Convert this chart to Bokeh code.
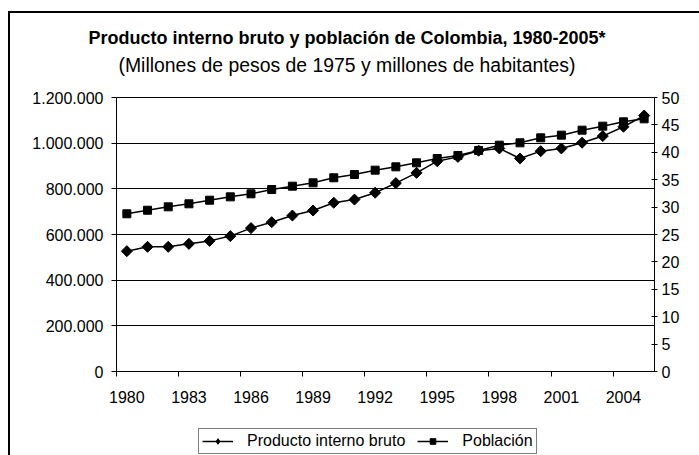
from bokeh.plotting import figure
from bokeh.layouts import column
from bokeh.models import (Range1d, LinearAxis, FixedTicker, Legend, LegendItem,
                          Title, ColumnDataSource)
from bokeh.embed import file_html
from bokeh.resources import INLINE

years = list(range(1980, 2006))
pib = [527000, 546000, 546000, 559000, 572000, 593000, 628000, 654000, 683000,
       705000, 739000, 753000, 783000, 825000, 870000, 921000, 940000, 967000,
       977000, 933000, 965000, 977000, 1002000, 1031000, 1072000, 1121000]
poblacion = [28.78, 29.43, 30.05, 30.60, 31.26, 31.87, 32.42, 33.21, 33.82,
             34.43, 35.35, 35.95, 36.74, 37.35, 38.08, 38.87, 39.42, 40.33,
             41.30, 41.73, 42.64, 43.13, 44.04, 44.77, 45.56, 46.11]
left_ticks = [0, 200000, 400000, 600000, 800000, 1000000, 1200000]
left_labels = ["0", "200.000", "400.000", "600.000", "800.000", "1.000.000", "1.200.000"]
right_ticks = [0, 5, 10, 15, 20, 25, 30, 35, 40, 45, 50]
title_text = "Producto interno bruto y población de Colombia, 1980-2005*"
subtitle_text = "(Millones de pesos de 1975 y millones de habitantes)"
series_names = ["Producto interno bruto", "Población"]

FONT = "Liberation Sans"
n = len(years)
xpos = [i + 0.5 for i in range(n)]
src = ColumnDataSource(dict(x=xpos, pib=pib, pob=poblacion))

p = figure(frame_width=538, frame_height=274, output_backend="svg", toolbar_location=None,
           x_range=Range1d(0, n), y_range=Range1d(0, 1200000),
           min_border_left=106, min_border_right=45, min_border_top=84,
           min_border_bottom=45)
p.extra_y_ranges = {"pob": Range1d(0, 50)}
p.outline_line_color = "black"
p.outline_line_width = 1
p.background_fill_color = "white"
p.border_fill_color = "white"

# x axis
xax = p.xaxis[0]
xax.ticker = FixedTicker(ticks=xpos[::3], minor_ticks=list(range(0, n, 3)))
xax.major_label_overrides = {xpos[i]: str(years[i]) for i in range(0, n, 3)}
xax.major_tick_line_color = None
xax.minor_tick_out = 5
xax.minor_tick_in = 0
xax.minor_tick_line_color = "black"
xax.axis_line_color = "black"
xax.major_label_text_font = FONT
xax.major_label_text_font_size = "16px"
xax.major_label_text_color = "black"
xax.major_label_standoff = 13

# left y axis
yax = p.yaxis[0]
yax.ticker = FixedTicker(ticks=left_ticks)
yax.major_label_overrides = {t: l for t, l in zip(left_ticks, left_labels)}
yax.minor_tick_line_color = None
yax.major_tick_out = 5
yax.major_tick_in = 0
yax.major_tick_line_color = "black"
yax.axis_line_color = "black"
yax.major_label_text_font = FONT
yax.major_label_text_font_size = "16px"
yax.major_label_text_color = "black"
yax.major_label_standoff = 8

# right y axis
rax = LinearAxis(y_range_name="pob", ticker=FixedTicker(ticks=right_ticks))
rax.minor_tick_line_color = None
rax.major_tick_out = 3
rax.major_tick_in = 3
rax.major_tick_line_color = "black"
rax.axis_line_color = "black"
rax.major_label_text_font = FONT
rax.major_label_text_font_size = "16px"
rax.major_label_text_color = "black"
rax.major_label_standoff = 4
p.add_layout(rax, "right")

p.xgrid.grid_line_color = None
p.ygrid.ticker = FixedTicker(ticks=left_ticks)
p.ygrid.grid_line_color = "black"
p.ygrid.grid_line_width = 1

# series
pib_line = dict(line_color="black", line_width=1.5)
pib_mark = dict(marker="square", angle=0.785398, size=7.8, fill_color="black", line_color="black")
pob_mark = dict(marker="square", size=8, fill_color="black", line_color="black")
p.line("x", "pib", source=src, **pib_line)
p.scatter("x", "pib", source=src, **pib_mark)
p.line("x", "pob", source=src, y_range_name="pob", **pib_line)
p.scatter("x", "pob", source=src, y_range_name="pob", **pob_mark)

# titles (first added sits nearest the plot); a blank spacer keeps the gap
p.add_layout(Title(text=" ", text_font=FONT, text_font_size="1px", standoff=17),
             "above")
p.add_layout(Title(text=subtitle_text, align="left", offset=2, standoff=4,
                   text_font=FONT, text_font_size="19.4px", text_font_style="normal",
                   text_color="black"), "above")
p.add_layout(Title(text=title_text, align="left", offset=-28, standoff=3,
                   text_font=FONT, text_font_size="18px", text_font_style="bold",
                   text_color="black"), "above")

# legend strip below the chart (its own small canvas; the series drawn there
# fall far outside its 0..1 range, so only the legend shows)
pl = figure(width=689, height=39, output_backend="svg", toolbar_location=None,
            x_range=Range1d(0, 1), y_range=Range1d(0, 1),
            x_axis_type=None, y_axis_type=None,
            min_border_left=0, min_border_right=0, min_border_top=0, min_border_bottom=0)
pl.outline_line_color = None
pl.xgrid.grid_line_color = None
pl.ygrid.grid_line_color = None
k1 = pl.line("x", "pib", source=src, **pib_line)
k2 = pl.scatter("x", "pib", source=src, marker="diamond", size=12,
                fill_color="black", line_color="black")
k3 = pl.line("x", "pob", source=src, **pib_line)
k4 = pl.scatter("x", "pob", source=src, **pob_mark)
legend = Legend(items=[LegendItem(label=series_names[0], renderers=[k1, k2]),
                       LegendItem(label=series_names[1], renderers=[k3, k4])],
                orientation="horizontal", location=(82, 1),
                border_line_color="black", border_line_width=1,
                background_fill_color="white", background_fill_alpha=1,
                label_text_font=FONT, label_text_font_size="16px",
                label_text_color="black",
                padding=3, spacing=12, margin=0, glyph_width=31,
                glyph_height=14, label_height=14, label_standoff=14)
pl.add_layout(legend, "center")

layout = column(p, pl, spacing=0,
                styles={"margin-left": "8px", "margin-top": "11px",
                        "border-left": "2px solid black", "border-top": "2px solid black"})

open("out.html", "w").write(file_html(layout, INLINE))
